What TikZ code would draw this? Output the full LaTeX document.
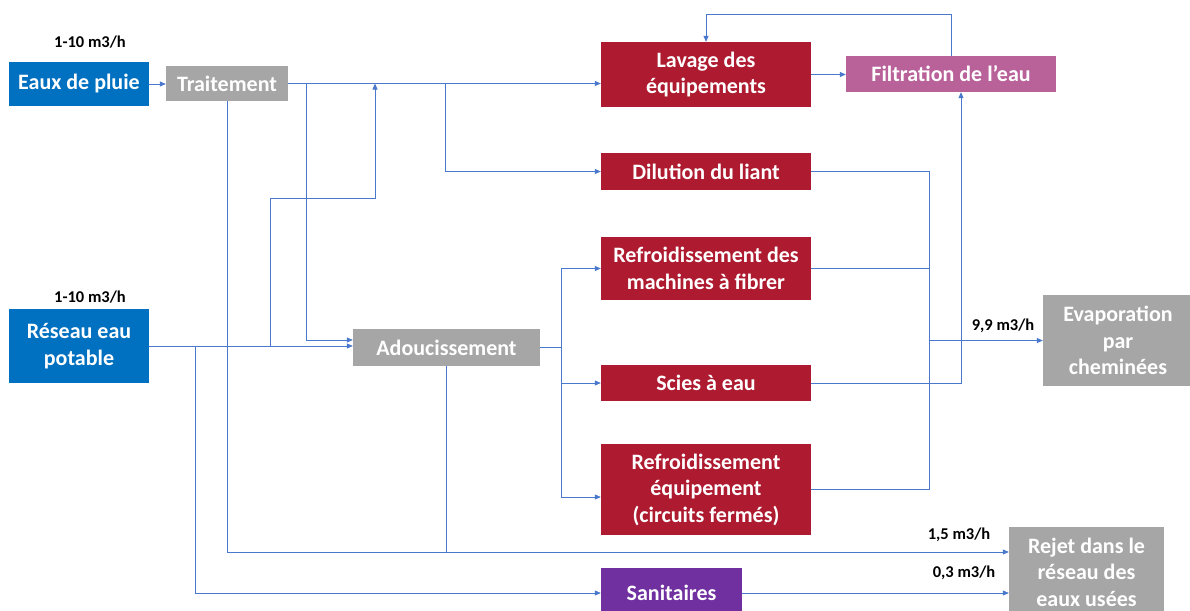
\documentclass[tikz,border=0pt]{standalone}
\usepackage{fontspec}
\setmainfont{Carlito}
\usetikzlibrary{arrows.meta}
\definecolor{cblue}{HTML}{0070C0}
\definecolor{cgray}{HTML}{A6A6A6}
\definecolor{cred}{HTML}{AE1A2F}
\definecolor{cpink}{HTML}{B9629A}
\definecolor{cpurple}{HTML}{7030A0}
\definecolor{lcol}{HTML}{4A78CC}
\begin{document}
\begin{tikzpicture}[x=1pt,y=-1pt,
  box/.style={draw=none, text=white, font=\fontsize{22}{26.5}\selectfont\bfseries, align=center, inner sep=0pt, anchor=center},
  conn/.style={draw=lcol, line width=0.8pt},
  arr/.style={conn, -{Triangle[length=6pt,width=5pt]}},
  flow/.style={font=\fontsize{16.5}{19}\selectfont\bfseries, text=black, inner sep=0pt}]
\clip (0,0) rectangle (1190,610);
\fill[white] (0,0) rectangle (1190,610);
% boxes
\node[box, fill=cblue, minimum width=140pt, minimum height=44pt] (pluie) at (79,84) {Eaux de pluie};
\node[box, fill=cgray, minimum width=122pt, minimum height=35pt] (trait) at (227,83.5) {Traitement};
\node[box, fill=cblue, minimum width=140pt, minimum height=74pt] (reseau) at (79,346) {Réseau eau\\potable};
\node[box, fill=cgray, minimum width=187pt, minimum height=37pt] (adouc) at (446.5,347.5) {Adoucissement};
\node[box, fill=cred, minimum width=210pt, minimum height=65pt] (lavage) at (706,74.5) {Lavage des\\équipements};
\node[box, fill=cpink, minimum width=210pt, minimum height=36pt] (filtr) at (951,74) {Filtration de l’eau};
\node[box, fill=cred, minimum width=210pt, minimum height=37pt] (dilut) at (706,171.5) {Dilution du liant};
\node[box, fill=cred, minimum width=210pt, minimum height=63pt] (refm) at (706,268.5) {Refroidissement des\\machines à fibrer};
\node[box, fill=cred, minimum width=210pt, minimum height=36pt] (scies) at (706,383) {Scies à eau};
\node[box, fill=cred, minimum width=210pt, minimum height=91pt] (refe) at (706,489.5) {Refroidissement\\équipement\\(circuits fermés)};
\node[box, fill=cpurple, minimum width=141pt, minimum height=50pt] (sanit) at (671.5,593) {Sanitaires};
\node[box, fill=cgray, minimum width=150pt, minimum height=91pt] (evap) at (1118,340.5) {Evaporation\\par\\cheminées};
\node[box, fill=cgray, minimum width=155pt, minimum height=90pt] (rejet) at (1086.5,572) {Rejet dans le\\réseau des\\eaux usées};
% flow labels
\node[flow] (q1) at (90,42) {1-10 m3/h};
\node[flow] (q2) at (90,297) {1-10 m3/h};
\node[flow] (q3) at (1003,326) {9,9 m3/h};
\node[flow] (q4) at (959,535) {1,5 m3/h};
\node[flow] (q5) at (964,573) {0,3 m3/h};
% helper coordinates
\coordinate (j445) at (445,83.5);
\coordinate (j306) at (306,83.5);
\coordinate (y340) at (0,340);
\coordinate (j270) at (270,346);
\coordinate (j270b) at (270,198);
\coordinate (j375) at (375,83.5);
\coordinate (y552) at (0,552);
\coordinate (y497) at (0,497);
\coordinate (j195) at (195,346);
\coordinate (j561) at (561,347.5);
\coordinate (top14) at (0,14);
\coordinate (x929) at (929,0);
\coordinate (x961) at (961,0);
% connectors
\draw[arr] (pluie.east) -- (pluie.east -| trait.west);
\draw[arr] (trait.east) -- (trait.east -| lavage.west);
\draw[arr] (j445) |- (dilut.west);
\draw[arr] (j306) |- (adouc.west |- y340);
\draw[arr] (reseau.east) -- (reseau.east -| adouc.west);
\draw[arr] (j270) -- (j270b) -| (j375);
\draw[arr] (trait.south) |- (rejet.west |- y552);
\draw[conn] (adouc.south) -- (adouc.south |- y552);
\draw[arr] (j195) |- (sanit.west);
\draw[conn] (adouc.east) -- (j561);
\draw[arr] (j561) |- (refm.west);
\draw[arr] (j561) |- (scies.west);
\draw[arr] (j561) |- (refe.west |- y497);
\draw[arr] (lavage.east) -- (lavage.east -| filtr.west);
\draw[arr] (filtr.north) -- (filtr.north |- top14) -| (lavage.north);
\draw[conn] (dilut.east) -| (refe.east -| x929);
\draw[conn] (refm.east) -- (refm.east -| x929);
\draw[conn] (refe.east) -- (refe.east -| x929);
\draw[arr] (x929 |- evap.west) -- (evap.west);
\draw[arr] (scies.east) -| (x961 |- filtr.south);
\draw[arr] (sanit.east) -- (sanit.east -| rejet.west);
\end{tikzpicture}
\end{document}
